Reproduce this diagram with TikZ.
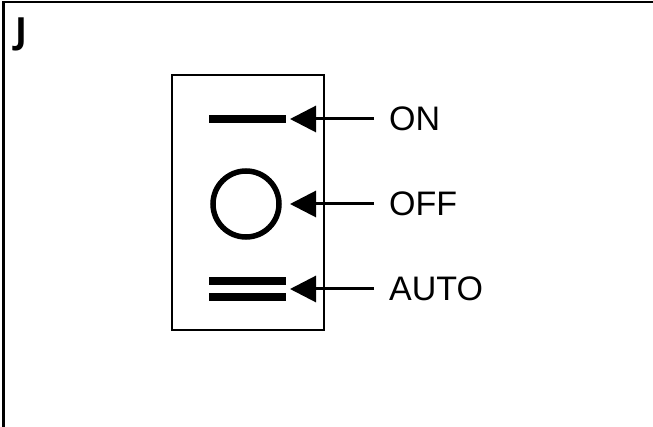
\documentclass[tikz,border=0pt]{standalone}
\usepackage{fontspec}
\setmainfont{Liberation Sans}
\newfontfamily\jfont{Open Sans}
\usetikzlibrary{arrows.meta}
\begin{document}
\begin{tikzpicture}[x=1pt,y=-1pt,
  frame/.style={line width=2.5pt},
  lbl/.style={anchor=west,inner sep=0pt,font=\fontsize{34}{36}\selectfont},
  bar/.style={fill=black,draw=none,minimum width=77pt,minimum height=8pt,inner sep=0pt},
  pointer/.style={line width=3pt,-{Triangle[length=26pt 0,width=26pt 0]}},
  switchbox/.style={draw,line width=2pt}]
\useasboundingbox (0,0) rectangle (653,427);
\draw[frame] (3.5,427) -- (3.5,2) -- (653,2);
\node[anchor=north west,inner sep=0pt,font=\jfont\bfseries\fontsize{36}{40}\selectfont] (title) at (15,18) {J};
\draw[switchbox] (172,75) rectangle (324,330);
\node[bar] (onbar) at (247.5,119) {};
\node[draw,circle,line width=5.5pt,minimum size=66pt,inner sep=0pt] (offsym) at (246,204) {};
\node[bar] (autobar1) at (247.5,281) {};
\node[bar] (autobar2) at (247.5,297) {};
\node[lbl] (on) at (389,119) {ON};
\node[lbl] (off) at (389,204) {OFF};
\node[lbl] (auto) at (389,289) {AUTO};
\coordinate (ontip) at (290,119);
\coordinate (offtip) at (290,204);
\coordinate (autotip) at (290,289);
\draw[pointer] ([xshift=-15pt]on.west) -- (ontip);
\draw[pointer] ([xshift=-15pt]off.west) -- (offtip);
\draw[pointer] ([xshift=-15pt]auto.west) -- (autotip);
\end{tikzpicture}
\end{document}
